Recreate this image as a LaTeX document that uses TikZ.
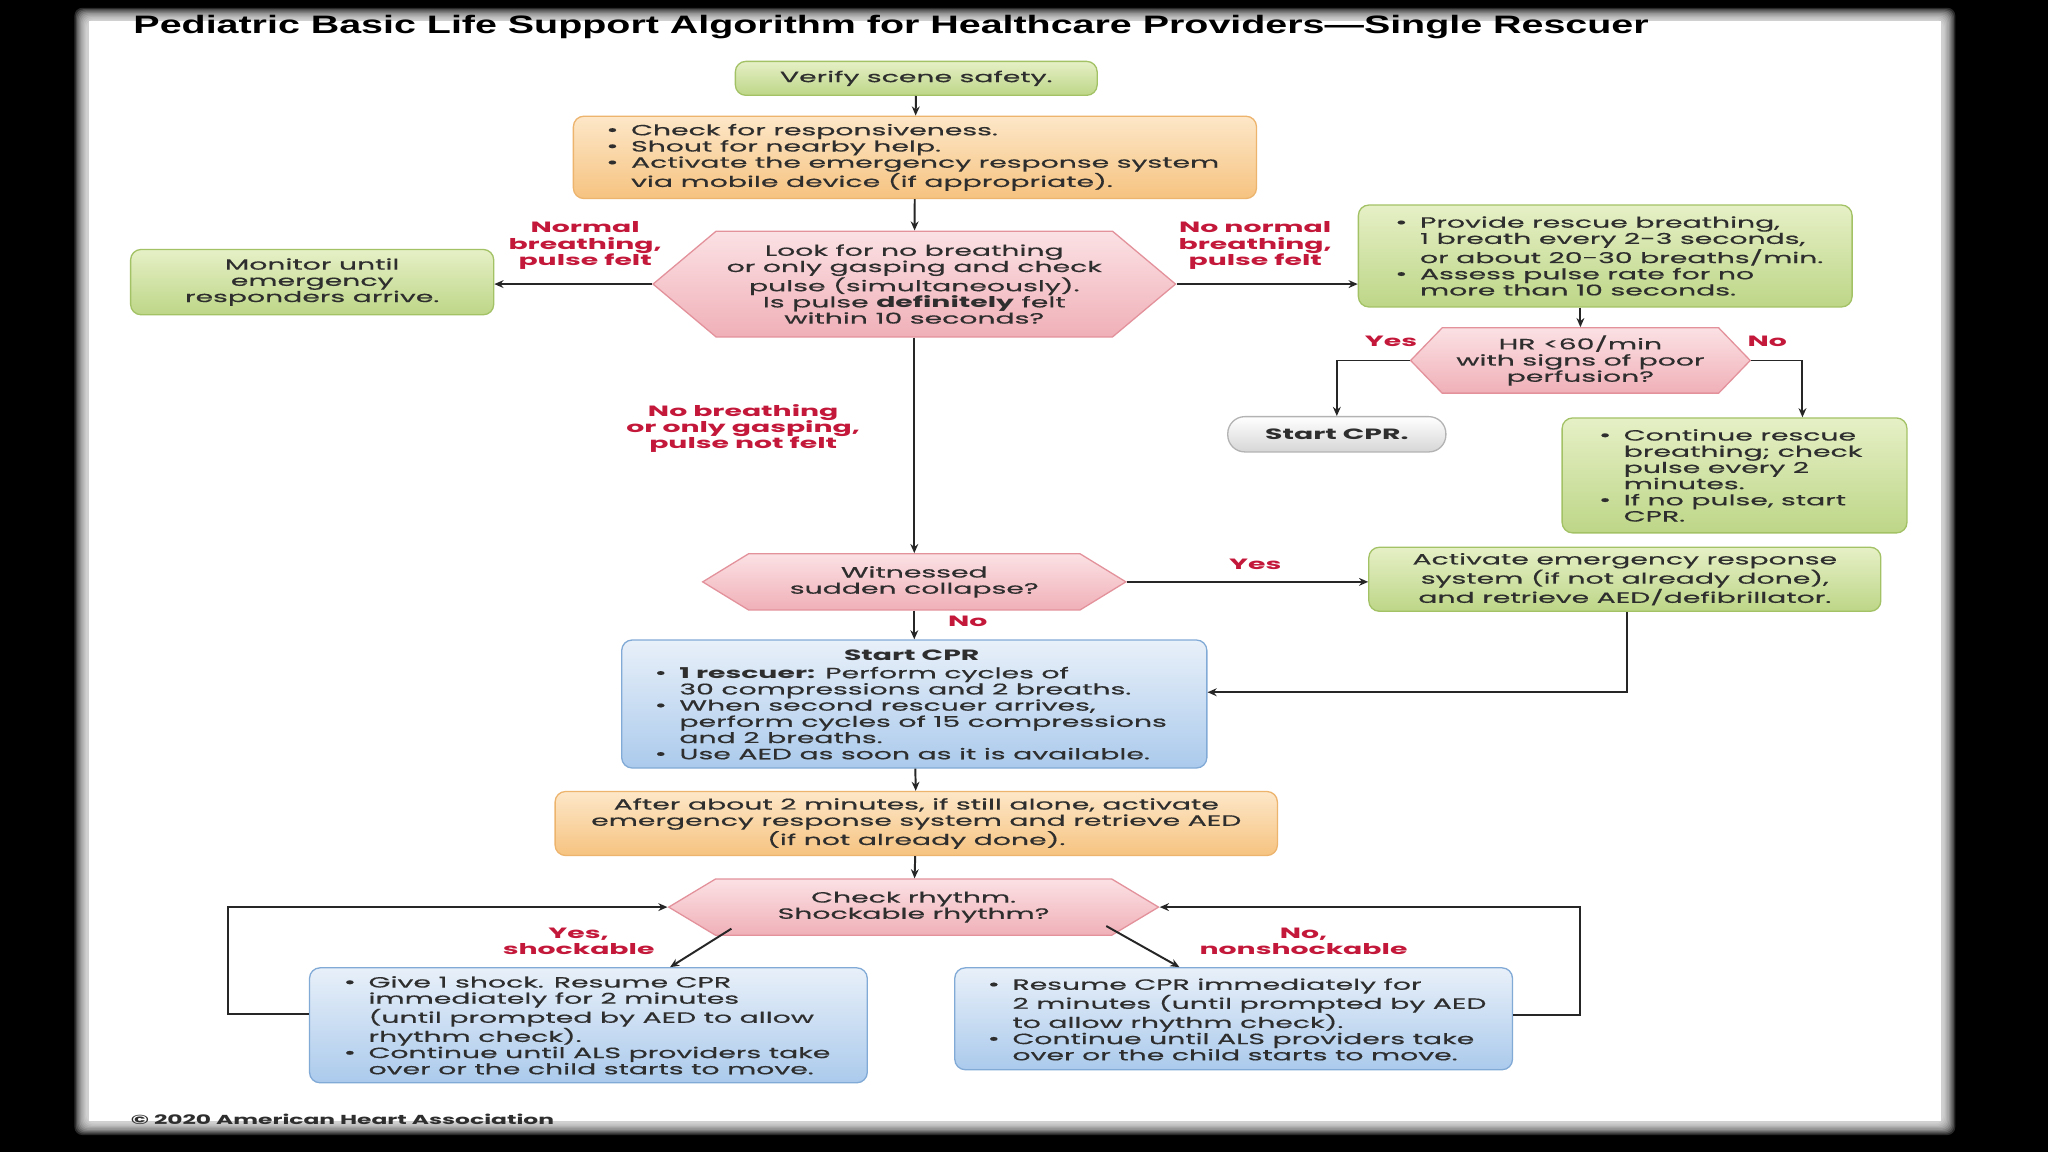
\documentclass[tikz,border=0pt]{standalone}
\usepackage{fontspec}
\setmainfont{Poppins}[FakeStretch=1.9, UprightFeatures={FakeBold=0.6}]
\newfontfamily\titlefont{Liberation Sans}
\usetikzlibrary{shapes.symbols,arrows.meta}
\definecolor{greenT}{HTML}{E6F0C6}
\definecolor{greenB}{HTML}{BDD687}
\definecolor{greenD}{HTML}{A3C266}
\definecolor{orangeT}{HTML}{FDE7C8}
\definecolor{orangeB}{HTML}{F6C380}
\definecolor{orangeD}{HTML}{EDB46E}
\definecolor{pinkT}{HTML}{FBE1E4}
\definecolor{pinkB}{HTML}{F0B0B8}
\definecolor{pinkD}{HTML}{E3929C}
\definecolor{blueT}{HTML}{E8F0F9}
\definecolor{blueB}{HTML}{ABCAEC}
\definecolor{blueD}{HTML}{82AAD6}
\definecolor{grayT}{HTML}{FFFFFF}
\definecolor{grayB}{HTML}{D6D6D6}
\definecolor{grayD}{HTML}{B3B3B3}
\definecolor{lblred}{HTML}{C4183A}
\definecolor{txtc}{HTML}{2E2E2E}
\newcommand\bu{\llap{\makebox[19pt][l]{\large\textbullet}}}
\tikzset{
  body/.style={font=\fontsize{11.4}{12.4}\selectfont, text=txtc},
  boxbase/.style={body, draw, line width=1pt, rounded corners=8pt, inner sep=0pt, align=center},
  gbox/.style={boxbase, draw=greenD, top color=greenT, bottom color=greenB},
  obox/.style={boxbase, draw=orangeD, top color=orangeT, bottom color=orangeB},
  bbox/.style={boxbase, draw=blueD, top color=blueT, bottom color=blueB},
  pill/.style={boxbase, draw=grayD, top color=grayT, bottom color=grayB, rounded corners=13pt},
  hexa/.style={body, signal, signal to=west and east, draw=pinkD, line width=1pt,
    top color=pinkT, bottom color=pinkB, inner sep=0pt, align=center},
  btxt/.style={body, align=left, anchor=west, inner sep=0pt},
  lbl/.style={font=\fontsize{11.4}{12.4}\selectfont\bfseries, text=lblred, align=center, inner sep=0pt},
  arr/.style={draw=black!85, line width=1.5pt, -{Stealth[length=7pt,width=6pt]}},
}
\begin{document}
\begin{tikzpicture}[x=1pt,y=-1pt]
\useasboundingbox (0,0) rectangle (1568,882);
% frame
\fill[black] (0,0) rectangle (1568,882);
\foreach \i in {0,...,9}{
  \fill[white,opacity=0.16,rounded corners=6pt] (57+\i,6+\i) rectangle (1497-\i,869-\i);
}
\fill[white] (68,16) rectangle (1486,858);
% title
\node[anchor=south west, inner sep=0pt] (title) at (102,30)
  {\resizebox{1160pt}{14pt}{\titlefont\bfseries Pediatric Basic Life Support Algorithm for Healthcare Providers\textemdash Single Rescuer}};
% nodes
\node[gbox, minimum width=277pt, minimum height=26pt] (verify) at (701.5,60) {Verify scene safety.};
\node[obox, minimum width=523pt, minimum height=63pt] (resp) at (700.5,120.5) {};
\node[btxt] (resptxt) at (483,120.5) {\bu Check for responsiveness.\\\bu Shout for nearby help.\\\bu Activate the emergency response system\\via mobile device (if appropriate).};
\node[hexa, minimum width=400pt, minimum height=81pt, signal pointer angle=80] (look) at (700,217.5)
  {Look for no breathing\\or only gasping and check\\pulse (simultaneously).\\Is pulse \textbf{definitely} felt\\within 10 seconds?};
\node[gbox, minimum width=278pt, minimum height=50pt] (monitor) at (239,216) {Monitor until\\emergency\\responders arrive.};
\node[gbox, minimum width=378pt, minimum height=78pt] (breath) at (1229,196) {};
\node[btxt] (breathtxt) at (1087,196) {\bu Provide rescue breathing,\\1 breath every 2-3 seconds,\\or about 20-30 breaths/min.\\\bu Assess pulse rate for no\\more than 10 seconds.};
\node[hexa, minimum width=260pt, minimum height=50pt, signal pointer angle=92] (hr) at (1210,276) {HR <60/min\\with signs of poor\\perfusion?};
\node[pill, minimum width=167pt, minimum height=27pt] (scpr) at (1023.5,332.5) {\bfseries Start CPR.};
\node[gbox, minimum width=264pt, minimum height=88pt] (cont) at (1328,364) {};
\node[btxt] (conttxt) at (1243,364) {\bu Continue rescue\\breathing; check\\pulse every 2\\minutes.\\\bu If no pulse, start\\CPR.};
\node[hexa, minimum width=324pt, minimum height=43pt, signal pointer angle=63] (wit) at (700,445.5) {Witnessed\\sudden collapse?};
\node[gbox, minimum width=392pt, minimum height=49pt] (act) at (1244,443.5) {Activate emergency response\\system (if not already done),\\and retrieve AED/defibrillator.};
\node[bbox, minimum width=448pt, minimum height=98pt] (cpr) at (700,539) {};
\node[body, inner sep=0pt] (cprtitle) at (698,502) {\bfseries Start CPR};
\node[btxt] (cprtxt) at (520,546) {\bu \textbf{1 rescuer:} Perform cycles of\\30 compressions and 2 breaths.\\\bu When second rescuer arrives,\\perform cycles of 15 compressions\\and 2 breaths.\\\bu Use AED as soon as it is available.};
\node[obox, minimum width=553pt, minimum height=49pt] (after) at (701.5,630.5) {After about 2 minutes, if still alone, activate\\emergency response system and retrieve AED\\(if not already done).};
\node[hexa, minimum width=375pt, minimum height=43pt, signal pointer angle=62] (rhythm) at (699.5,694.5) {Check rhythm.\\Shockable rhythm?};
\node[bbox, minimum width=427pt, minimum height=88pt] (lbox) at (450.5,785) {};
\node[btxt] (lboxtxt) at (282,785) {\bu Give 1 shock. Resume CPR\\immediately for 2 minutes\\(until prompted by AED to allow\\rhythm check).\\\bu Continue until ALS providers take\\over or the child starts to move.};
\node[bbox, minimum width=427pt, minimum height=78pt] (rbox) at (944.5,780) {};
\node[btxt] (rboxtxt) at (775,780.5) {\bu Resume CPR immediately for\\2 minutes (until prompted by AED\\to allow rhythm check).\\\bu Continue until ALS providers take\\over or the child starts to move.};
% labels
\node[lbl] (lnormal) at (448,188) {Normal\\breathing,\\pulse felt};
\node[lbl] (lnonormal) at (961,188) {No normal\\breathing,\\pulse felt};
\node[lbl] (lnob) at (569,328) {No breathing\\or only gasping,\\pulse not felt};
\node[lbl] (lyes1) at (1065,261) {Yes};
\node[lbl] (lno1) at (1353,261) {No};
\node[lbl] (lyes2) at (961,432) {Yes};
\node[lbl] (lno2) at (741,476) {No};
\node[lbl] (lyes3) at (443,721) {Yes,\\shockable};
\node[lbl] (lno3) at (998,721) {No,\\nonshockable};
% connectors
\draw[arr] (verify) -- (resp);
\draw[arr] (resp) -- (look);
\draw[arr] (look.west) -- (look.west -| monitor.east);
\draw[arr] (look.east) -- (look.east -| breath.west);
\draw[arr] (breath.south -| hr.north) -- (hr.north);
\draw[arr] (hr.west) -| (scpr.north);
\draw[arr] (hr.east) -| ([xshift=52pt]cont.north);
\draw[arr] (look.south) -- (wit.north);
\draw[arr] (wit.east) -- (wit.east -| act.west);
\draw[arr] ([xshift=2pt]act.south) |- ([yshift=9pt]cpr.east);
\draw[arr] (wit.south) -- (cpr.north);
\draw[arr] (cpr) -- (after);
\draw[arr] (after) -- (rhythm);
\coordinate (rs1) at (560,711);
\coordinate (rs2) at (847,709);
\draw[arr] (rs1) -- ([xshift=62.5pt]lbox.north);
\draw[arr] (rs2) -- ([xshift=-41.5pt]rbox.north);
\draw[arr] ([yshift=9pt]lbox.west) -- ++(-62,0) |- (rhythm.west);
\draw[arr] ([yshift=3pt]rbox.east) -- ++(51,0) |- (rhythm.east);
% copyright
\node[anchor=south west, inner sep=0pt, text=txtc] (copy) at (100,861)
  {\resizebox{324pt}{8pt}{\bfseries \textcopyright\ 2020 American Heart Association}};
\end{tikzpicture}
\end{document}
